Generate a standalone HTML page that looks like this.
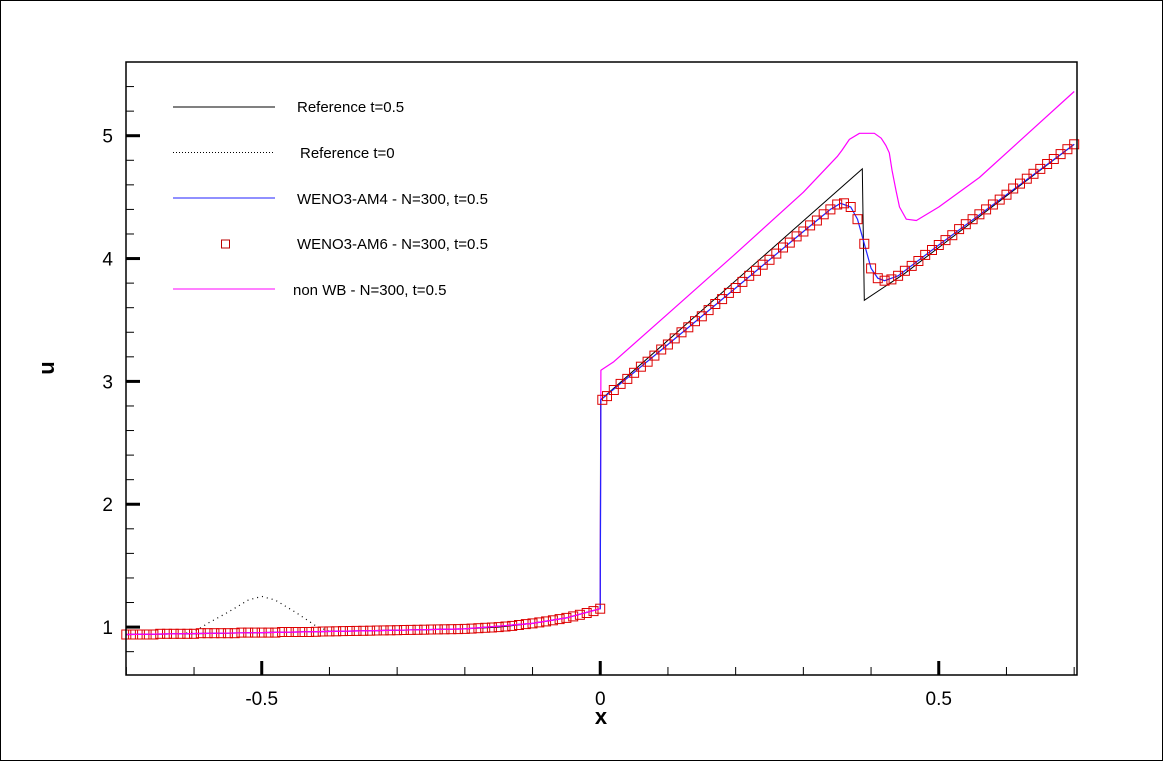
<!DOCTYPE html>
<html><head><meta charset="utf-8"><style>
html,body{margin:0;padding:0;background:#fff;}
svg{display:block;font-family:"Liberation Sans",Arial,sans-serif;}
</style></head><body>
<svg id="chart" width="1163" height="761" viewBox="0 0 1163 761" xmlns="http://www.w3.org/2000/svg">
<rect x="0.5" y="0.5" width="1162" height="760" fill="#fff" stroke="#000" stroke-width="1"/>
<g id="plot"></g>
<g id="axes"></g>
<g id="legend">
  <line x1="173" y1="107" x2="275" y2="107" stroke="#000" stroke-width="1"/>
  <text x="297" y="112" font-size="15">Reference t=0.5</text>
  <line x1="173" y1="152.5" x2="275" y2="152.5" stroke="#000" stroke-width="1" stroke-dasharray="1,2"/>
  <text x="300" y="158" font-size="15">Reference t=0</text>
  <line x1="173" y1="198" x2="275" y2="198" stroke="#2222ff" stroke-width="1"/>
  <text x="297" y="204" font-size="15">WENO3-AM4 - N=300, t=0.5</text>
  <rect x="221.5" y="240" width="8" height="8" fill="none" stroke="#b00" stroke-width="1"/>
  <text x="297" y="249" font-size="15">WENO3-AM6 - N=300, t=0.5</text>
  <line x1="173" y1="289" x2="275" y2="289" stroke="#ff00ff" stroke-width="1"/>
  <text x="293" y="295" font-size="15">non WB - N=300, t=0.5</text>
</g>
</svg>
<script>
const refX = [-0.7,-0.6,-0.5,-0.4,-0.3,-0.2,-0.15,-0.1,-0.05,0,0.0005,0.387,0.39,0.45,0.7];
const refU = [0.94,0.945,0.955,0.965,0.975,0.985,1.0,1.03,1.075,1.15,2.85,4.73,3.66,3.88,4.93];
const ref0X = [-0.7,-0.62,-0.6,-0.58,-0.55,-0.52,-0.5,-0.48,-0.45,-0.42,-0.4,-0.3,-0.2,-0.1,-0.05,0];
const ref0U = [0.94,0.945,0.96,1.03,1.12,1.22,1.25,1.22,1.12,1.01,0.965,0.975,0.985,1.03,1.075,1.15];
const am4X = [-0.7,-0.5,-0.3,-0.2,-0.1,-0.05,0,0.001,0.1,0.2,0.3,0.34,0.355,0.37,0.38,0.39,0.40,0.41,0.42,0.44,0.5,0.6,0.7];
const am4U = [0.94,0.955,0.975,0.985,1.03,1.075,1.15,2.85,3.30,3.76,4.22,4.40,4.45,4.42,4.32,4.12,3.92,3.84,3.82,3.86,4.11,4.52,4.93];
const nwbX = [-0.7,-0.5,-0.3,-0.2,-0.1,-0.05,0,0.001,0.02,0.1,0.2,0.3,0.35,0.357,0.368,0.383,0.405,0.415,0.422,0.427,0.431,0.437,0.442,0.452,0.467,0.5,0.56,0.7];
const nwbU = [0.94,0.955,0.975,0.985,1.03,1.075,1.15,3.09,3.16,3.55,4.04,4.54,4.83,4.88,4.97,5.02,5.02,4.98,4.92,4.86,4.72,4.55,4.42,4.32,4.31,4.42,4.66,5.36];
const am6X = [-0.70,-0.69,-0.68,-0.67,-0.66,-0.65,-0.64,-0.63,-0.62,-0.61,-0.60,-0.59,-0.58,-0.57,-0.56,-0.55,-0.54,-0.53,-0.52,-0.51,-0.50,-0.49,-0.48,-0.47,-0.46,-0.45,-0.44,-0.43,-0.42,-0.41,-0.40,-0.39,-0.38,-0.37,-0.36,-0.35,-0.34,-0.33,-0.32,-0.31,-0.30,-0.29,-0.28,-0.27,-0.26,-0.25,-0.24,-0.23,-0.22,-0.21,-0.20,-0.19,-0.18,-0.17,-0.16,-0.15,-0.14,-0.13,-0.12,-0.11,-0.10,-0.09,-0.08,-0.07,-0.06,-0.05,-0.04,-0.03,-0.02,-0.01,0.00,0.003,0.01,0.02,0.03,0.04,0.05,0.06,0.07,0.08,0.09,0.10,0.11,0.12,0.13,0.14,0.15,0.16,0.17,0.18,0.19,0.20,0.21,0.22,0.23,0.24,0.25,0.26,0.27,0.28,0.29,0.30,0.31,0.32,0.33,0.34,0.35,0.36,0.37,0.38,0.39,0.40,0.41,0.42,0.43,0.44,0.45,0.46,0.47,0.48,0.49,0.50,0.51,0.52,0.53,0.54,0.55,0.56,0.57,0.58,0.59,0.60,0.61,0.62,0.63,0.64,0.65,0.66,0.67,0.68,0.69,0.70];
const am6U = [0.94,0.94,0.94,0.94,0.94,0.945,0.945,0.945,0.945,0.945,0.945,0.95,0.95,0.95,0.95,0.95,0.95,0.955,0.955,0.955,0.955,0.955,0.955,0.96,0.96,0.96,0.96,0.96,0.962,0.964,0.965,0.966,0.967,0.968,0.969,0.97,0.971,0.972,0.973,0.974,0.975,0.976,0.977,0.978,0.979,0.98,0.981,0.982,0.983,0.984,0.985,0.988,0.991,0.994,0.997,1.0,1.005,1.01,1.017,1.024,1.03,1.038,1.046,1.055,1.065,1.075,1.087,1.1,1.115,1.13,1.15,2.85,2.88,2.93,2.98,3.02,3.07,3.12,3.16,3.21,3.26,3.30,3.35,3.40,3.44,3.49,3.53,3.58,3.63,3.67,3.72,3.76,3.81,3.86,3.90,3.95,3.99,4.04,4.09,4.13,4.18,4.22,4.27,4.31,4.36,4.40,4.44,4.45,4.42,4.32,4.12,3.92,3.84,3.82,3.83,3.86,3.90,3.94,3.98,4.03,4.07,4.11,4.15,4.19,4.24,4.28,4.32,4.36,4.40,4.44,4.48,4.52,4.57,4.61,4.65,4.69,4.73,4.77,4.81,4.85,4.89,4.93];
const xTickVals = [-0.5,0,0.5];
const xTickLabels = ["-0.5","0","0.5"];
const yTickVals = [1,2,3,4,5];
const yTickLabels = ["1","2","3","4","5"];

const X0=126,X1=1077,Y0=62,Y1=675;
const xMin=-0.7005,xMax=0.7042,yMin=0.61,yMax=5.6;
const sx=v=>X0+(v-xMin)/(xMax-xMin)*(X1-X0);
const sy=v=>Y1-(v-yMin)/(yMax-yMin)*(Y1-Y0);
const NS="http://www.w3.org/2000/svg";
const plot=document.getElementById('plot'), axes=document.getElementById('axes');
function mk(tag,attrs,parent){const e=document.createElementNS(NS,tag);for(const k in attrs)e.setAttribute(k,attrs[k]);parent.appendChild(e);return e;}
function pts(xs,us){return xs.map((x,i)=>sx(x).toFixed(1)+','+sy(us[i]).toFixed(1)).join(' ');}

let l=mk('polyline',{points:pts(ref0X,ref0U),fill:'none',stroke:'#000','stroke-width':1.2,'stroke-dasharray':'1,4'},plot);


l=mk('polyline',{points:pts(refX,refU),fill:'none',stroke:'#000','stroke-width':1},plot);


l=mk('polyline',{points:pts(nwbX,nwbU),fill:'none',stroke:'#ff00ff','stroke-width':1.2,'stroke-linejoin':'round'},plot);


l=mk('polyline',{points:pts(am4X,am4U),fill:'none',stroke:'#2222ff','stroke-width':1.2},plot);


const mg=mk('g',{},plot);


am6X.forEach((x,i)=>{
  const r=mk('rect',{x:(sx(x)-4.5).toFixed(1),y:(sy(am6U[i])-4.5).toFixed(1),width:9,height:9,fill:'none',stroke:'#d00','stroke-width':1},mg);
  
  
});
l=mk('polyline',{points:pts(nwbX.slice(0,7),nwbU.slice(0,7)),fill:'none',stroke:'#ff00ff','stroke-width':1.2},plot);



const fr=mk('rect',{x:X0,y:Y0,width:X1-X0,height:Y1-Y0,fill:'none',stroke:'#000','stroke-width':1.5},axes);


for(let k=-7;k<=7;k++){const v=k/10;if(k%5===0)continue;
  const t=mk('line',{x1:sx(v),x2:sx(v),y1:Y1,y2:Y1-8,stroke:'#000','stroke-width':1},axes);
  
  }
for(let k=4;k<=27;k++){const v=k/5;if(k%5===0)continue; if(v<yMin||v>yMax)continue;
  const t=mk('line',{x1:X0,x2:X0+8,y1:sy(v),y2:sy(v),stroke:'#000','stroke-width':1},axes);
  
  }
xTickVals.forEach((v,i)=>{
  const t=mk('line',{x1:sx(v),x2:sx(v),y1:Y1,y2:Y1-14,stroke:'#000','stroke-width':3},axes);
  
  
  const tx=mk('text',{x:sx(v),y:Y1+30,'text-anchor':'middle','font-size':19},axes);
  tx.textContent=xTickLabels[i];
  
  
});
yTickVals.forEach((v,i)=>{
  const t=mk('line',{x1:X0,x2:X0+14,y1:sy(v),y2:sy(v),stroke:'#000','stroke-width':3},axes);
  
  
  const tx=mk('text',{x:X0-13,y:sy(v)+7,'text-anchor':'end','font-size':19},axes);
  tx.textContent=yTickLabels[i];
  
  
});
let tl=mk('text',{x:601,y:724,'text-anchor':'middle','font-size':22,'font-weight':'bold'},axes);
tl.textContent='x';


tl=mk('text',{x:0,y:0,'text-anchor':'middle','font-size':22,'font-weight':'bold',transform:'translate(54,368) rotate(-90)'},axes);
tl.textContent='u';


</script>
</body></html>
